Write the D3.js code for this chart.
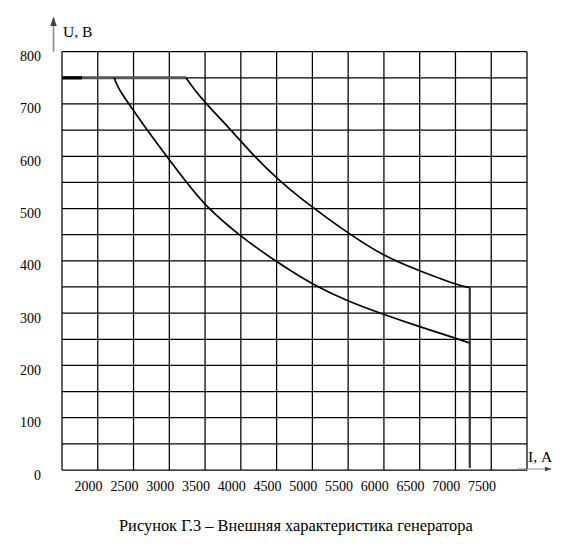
<!DOCTYPE html>
<html>
<head>
<meta charset="utf-8">
<script src="https://cdn.jsdelivr.net/npm/d3@7"></script>
<style>
  body { margin: 0; background: #fff; }
  svg { display: block; }
</style>
</head>
<body>
<div id="chart"></div>
<script>
// current, A (the grid starts at 1600 and runs in 500 A steps)
var gridCurrent = [1600, 2100, 2600, 3100, 3600, 4100, 4600, 5100, 5600, 6100, 6600, 7100, 7600, 8100];
var gridVoltage = [0, 50, 100, 150, 200, 250, 300, 350, 400, 450, 500, 550, 600, 650, 700, 750, 800];

// tick labels as they are printed under / beside the grid
var currentLabels = [2000, 2500, 3000, 3500, 4000, 4500, 5000, 5500, 6000, 6500, 7000, 7500];
var voltageLabels = [0, 100, 200, 300, 400, 500, 600, 700, 800];

// flat part at 750 V (shared by both characteristics)
var plateauI = [1600, 3333];
var plateauU = [750, 750];

// lower characteristic
var innerI = [2331, 2364, 2434, 2551, 2784, 3063, 3329, 3603, 4064, 4554, 5104, 5608, 6045, 6595, 7107, 7293];
var innerU = [750, 737, 720, 697, 651, 600, 552, 505, 450, 402, 354, 322, 300, 274, 252, 243];

// upper characteristic
var outerI = [3333, 3436, 3603, 3972, 4284, 4601, 4927, 5346, 5602, 6105, 6595, 7117, 7293];
var outerU = [750, 730, 702, 649, 600, 558, 520, 478, 453, 408, 381, 354, 349];

// current limit, vertical drop
var dropI = [7300, 7300];
var dropU = [350, 4];

var width = 574, height = 548;
var margin = {left: 62, right: 47, top: 51.7, bottom: 78};
var serif = "'Liberation Serif', 'Times New Roman', Times, 'DejaVu Serif', serif";

var svg = d3.select("#chart").append("svg")
    .attr("width", width)
    .attr("height", height)
    .attr("font-family", serif);

var x = d3.scaleLinear()
    .domain([1600, 8100])
    .range([margin.left, width - margin.right]);
var y = d3.scaleLinear()
    .domain([0, 800])
    .range([height - margin.bottom, margin.top]);

function zip(a, b) {
    return a.map(function(d, i) { return [d, b[i]]; });
}

// grid
var grid = svg.append("g")
    .attr("stroke", "#000")
    .attr("stroke-width", 1.25);
grid.selectAll(".v").data(gridCurrent).enter().append("line")
    .attr("x1", function(d) { return x(d); })
    .attr("x2", function(d) { return x(d); })
    .attr("y1", y(0))
    .attr("y2", y(800));
grid.selectAll(".h").data(gridVoltage).enter().append("line")
    .attr("x1", x(1600))
    .attr("x2", x(8100))
    .attr("y1", function(d) { return y(d); })
    .attr("y2", function(d) { return y(d); });

// axis arrows
svg.append("defs").append("marker")
    .attr("id", "arr")
    .attr("viewBox", "0 0 10 10")
    .attr("refX", 9).attr("refY", 5)
    .attr("markerWidth", 6).attr("markerHeight", 6)
    .attr("orient", "auto")
    .append("path")
    .attr("d", "M0,1.5 L10,5 L0,8.5 Z")
    .attr("fill", "#444");

svg.append("line")
    .attr("x1", x(1600) - 8.5).attr("x2", x(1600) - 8.5)
    .attr("y1", y(800)).attr("y2", y(800) - 34)
    .attr("stroke", "#8a8a8a").attr("stroke-width", 1.6)
    .attr("marker-end", "url(#arr)");
svg.append("line")
    .attr("x1", x(8100) - 9).attr("x2", x(8100) + 24)
    .attr("y1", y(0) - 1).attr("y2", y(0) - 1)
    .attr("stroke", "#8a8a8a").attr("stroke-width", 1.2)
    .attr("marker-end", "url(#arr)");

// axis names
svg.append("text")
    .attr("x", x(1600) + 1).attr("y", 37)
    .attr("font-size", 15.5)
    .text("U, В");
svg.append("text")
    .attr("x", x(8100) + 1).attr("y", 462)
    .attr("font-size", 15.5)
    .text("I, А");

// tick labels
svg.selectAll(".yl").data(voltageLabels).enter().append("text")
    .attr("x", 41)
    .attr("y", function(d) { return y(d) + 9.5; })
    .attr("text-anchor", "end")
    .attr("font-size", 14)
    .text(function(d) { return d; });
svg.selectAll(".xl").data(currentLabels).enter().append("text")
    .attr("x", function(d) { return x(d) - 2; })
    .attr("y", 491)
    .attr("text-anchor", "middle")
    .attr("font-size", 14)
    .text(function(d) { return d; });

// curves
var line = d3.line()
    .x(function(d) { return x(d[0]); })
    .y(function(d) { return y(d[1]); });
var smooth = d3.line()
    .curve(d3.curveBasis)
    .x(function(d) { return x(d[0]); })
    .y(function(d) { return y(d[1]); });

svg.append("path")
    .attr("d", line(zip(plateauI, plateauU)))
    .attr("fill", "none")
    .attr("stroke", "#555")
    .attr("stroke-width", 3);
// short heavy black piece at the left edge
svg.append("path")
    .attr("d", line([[plateauI[0], plateauU[0]], [1880, plateauU[0]]]))
    .attr("fill", "none")
    .attr("stroke", "#000")
    .attr("stroke-width", 3.2);

svg.append("path")
    .attr("d", smooth(zip(innerI, innerU)))
    .attr("fill", "none")
    .attr("stroke", "#000")
    .attr("stroke-width", 1.7);
svg.append("path")
    .attr("d", smooth(zip(outerI, outerU)))
    .attr("fill", "none")
    .attr("stroke", "#000")
    .attr("stroke-width", 1.7);
svg.append("path")
    .attr("d", line(zip(dropI, dropU)))
    .attr("fill", "none")
    .attr("stroke", "#333")
    .attr("stroke-width", 2.2);

// caption
svg.append("text")
    .attr("x", 119).attr("y", 530.5)
    .attr("font-size", 16.4)
    .text("Рисунок Г.3 – Внешняя характеристика генератора");
</script>
</body>
</html>
